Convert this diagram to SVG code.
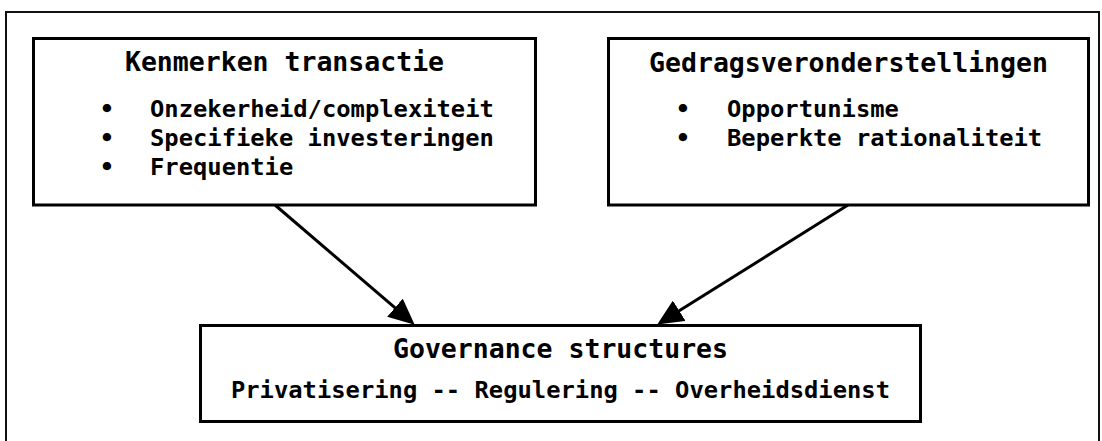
<svg xmlns="http://www.w3.org/2000/svg" width="1102" height="441" viewBox="0 0 1102 441">
  <style>
    .frame { fill: none; stroke: #111; stroke-width: 2; }
    .box { fill: #fff; stroke: #000; stroke-width: 3; }
    .t { font-family: "DejaVu Sans Mono", "Liberation Mono", monospace; font-weight: bold; fill: #000; }
    .title { font-size: 26.5px; text-anchor: middle; }
    .item { font-size: 23.8px; }
    .bul { font-size: 23.8px; text-anchor: middle; }
    .conn { fill: none; stroke: #000; stroke-width: 3; }
  </style>
  <defs>
    <marker id="ah" viewBox="0 0 26 24" refX="1" refY="12" markerWidth="26" markerHeight="24" markerUnits="userSpaceOnUse" orient="auto">
      <path d="M0,0 L26,12 L0,24 Z" fill="#000"/>
    </marker>
  </defs>
  <rect class="frame" x="6" y="12" width="1093" height="460"/>

  <g id="connectors">
    <line class="conn" x1="275" y1="205" x2="395.7" y2="308.4" marker-end="url(#ah)"/>
    <line class="conn" x1="848" y1="205" x2="678.4" y2="311.3" marker-end="url(#ah)"/>
  </g>

  <g id="kenmerken">
    <rect class="box" x="33.5" y="38.5" width="502" height="166.5"/>
    <text class="t title" x="284.5" y="71">Kenmerken transactie</text>
    <text class="t bul" x="107" y="117">•</text>
    <text class="t item" x="150" y="117">Onzekerheid/complexiteit</text>
    <text class="t bul" x="107" y="146">•</text>
    <text class="t item" x="150" y="146">Specifieke investeringen</text>
    <text class="t bul" x="107" y="175">•</text>
    <text class="t item" x="150" y="175">Frequentie</text>
  </g>

  <g id="gedrag">
    <rect class="box" x="608.5" y="38.5" width="480" height="166.5"/>
    <text class="t title" x="848.5" y="72">Gedragsveronderstellingen</text>
    <text class="t bul" x="683" y="117">•</text>
    <text class="t item" x="727" y="117">Opportunisme</text>
    <text class="t bul" x="683" y="146">•</text>
    <text class="t item" x="727" y="146">Beperkte rationaliteit</text>
  </g>

  <g id="governance">
    <rect class="box" x="200.5" y="325.5" width="720" height="96"/>
    <text class="t title" x="560.5" y="358">Governance structures</text>
    <text class="t item" x="560.5" y="398" text-anchor="middle">Privatisering -- Regulering -- Overheidsdienst</text>
  </g>
</svg>
